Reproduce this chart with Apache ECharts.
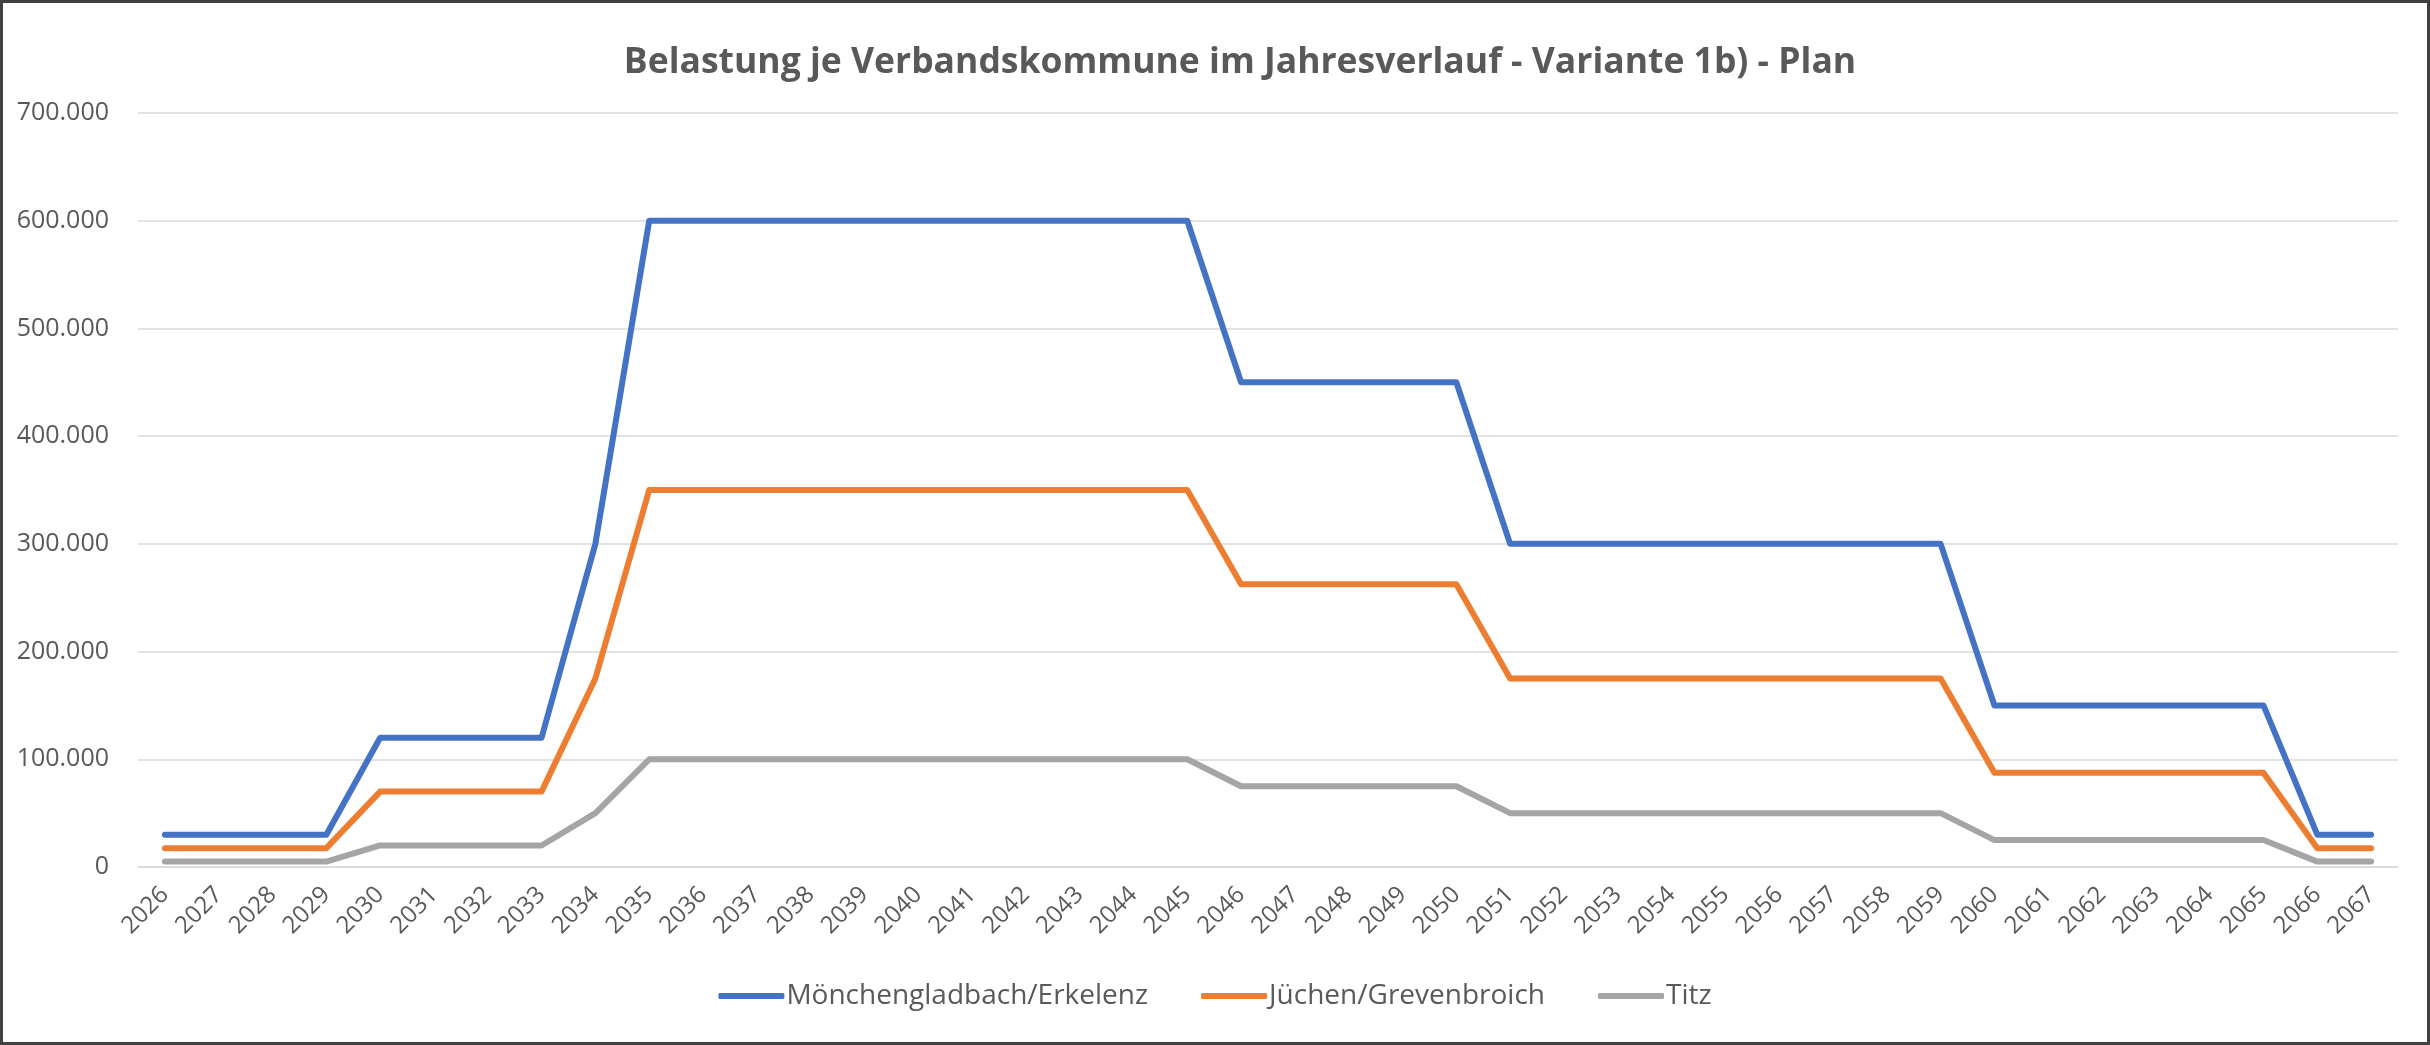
<!DOCTYPE html>
<html>
<head>
<meta charset="utf-8">
<script src="https://cdn.jsdelivr.net/npm/echarts@6/dist/echarts.min.js"></script>
<style>
html,body{margin:0;padding:0;background:#fff;}
#chart{width:2430px;height:1045px;}
</style>
</head>
<body>
<div id="chart"></div>
<script>
var titleText = 'Belastung je Verbandskommune im Jahresverlauf - Variante 1b) - Plan';
var years = ['2026','2027','2028','2029','2030','2031','2032','2033','2034','2035','2036','2037','2038','2039','2040','2041','2042','2043','2044','2045','2046','2047','2048','2049','2050','2051','2052','2053','2054','2055','2056','2057','2058','2059','2060','2061','2062','2063','2064','2065','2066','2067'];
var seriesNames = ['Mönchengladbach/Erkelenz','Jüchen/Grevenbroich','Titz'];
var moenchengladbach = [30000,30000,30000,30000,120000,120000,120000,120000,300000,600000,600000,600000,600000,600000,600000,600000,600000,600000,600000,600000,450000,450000,450000,450000,450000,300000,300000,300000,300000,300000,300000,300000,300000,300000,150000,150000,150000,150000,150000,150000,30000,30000];
var juechen = [17500,17500,17500,17500,70000,70000,70000,70000,175000,350000,350000,350000,350000,350000,350000,350000,350000,350000,350000,350000,262500,262500,262500,262500,262500,175000,175000,175000,175000,175000,175000,175000,175000,175000,87500,87500,87500,87500,87500,87500,17500,17500];
var titz = [5000,5000,5000,5000,20000,20000,20000,20000,50000,100000,100000,100000,100000,100000,100000,100000,100000,100000,100000,100000,75000,75000,75000,75000,75000,50000,50000,50000,50000,50000,50000,50000,50000,50000,25000,25000,25000,25000,25000,25000,5000,5000];
var colors = ['#4472C4','#ED7D31','#A5A5A5'];

function fmt(v){ return String(v).replace(/\B(?=(\d{3})+(?!\d))/g,'.'); }

var chart = echarts.init(document.getElementById('chart'));
var seriesData = [moenchengladbach, juechen, titz];
var textColor = '#595959';
var fontFam = '"Open Sans", sans-serif';

chart.setOption({
  animation: false,
  color: colors,
  title: {
    text: titleText,
    left: 1235,
    top: 40,
    textAlign: 'center',
    textStyle: { fontFamily: fontFam, fontWeight: 'bold', fontSize: 35.5, color: textColor }
  },
  legend: {
    data: seriesNames,
    left: 'center',
    top: 977,
    itemWidth: 66,
    itemHeight: 6,
    itemGap: 53,
    icon: 'roundRect',
    textStyle: { fontFamily: fontFam, fontSize: 28, color: textColor, padding: [0,0,0,-3] }
  },
  grid: { left: 138, right: 32, top: 113, bottom: 178, containLabel: false },
  xAxis: {
    type: 'category',
    data: years,
    boundaryGap: true,
    axisLine: { show: true, lineStyle: { color: '#D9D9D9', width: 1.5 } },
    axisTick: { show: false },
    axisLabel: { rotate: 45, interval: 0, margin: 24, fontFamily: fontFam, fontSize: 24, color: textColor }
  },
  yAxis: {
    type: 'value',
    min: 0,
    max: 700000,
    interval: 100000,
    axisLine: { show: false },
    axisTick: { show: false },
    splitLine: { lineStyle: { color: '#D9D9D9', width: 1.5 } },
    axisLabel: { margin: 29, fontFamily: fontFam, fontSize: 25, color: textColor, formatter: fmt }
  },
  graphic: [{
    type: 'rect',
    silent: true,
    shape: { x: 1.5, y: 1.5, width: 2427, height: 1042 },
    style: { fill: 'none', stroke: '#404040', lineWidth: 3 }
  }],
  series: seriesNames.map(function (n, i) {
    return {
      name: n,
      type: 'line',
      data: seriesData[i],
      symbol: 'none',
      lineStyle: { width: 6, color: colors[i], cap: 'round', join: 'round' },
      itemStyle: { color: colors[i] },
      z: 3 - i
    };
  })
});
</script>
</body>
</html>
